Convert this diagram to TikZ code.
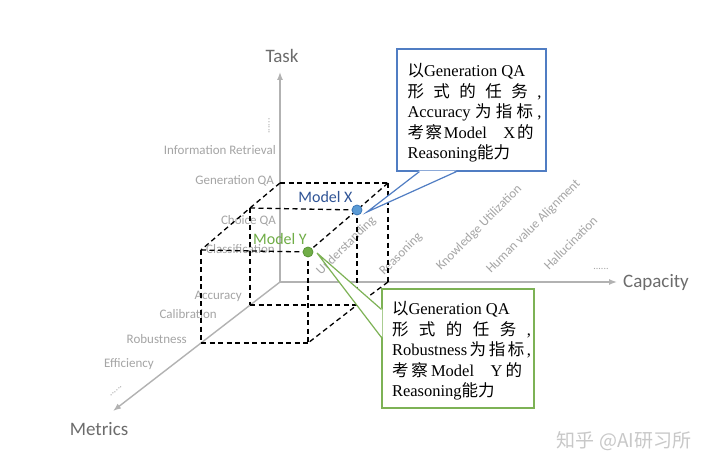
\documentclass[tikz,border=0pt]{standalone}
\usepackage{fontspec}
\setmainfont{Liberation Serif}
\newfontfamily\calib{Carlito}
\newfontfamily\cjk{Noto Sans CJK SC}
\usetikzlibrary{arrows.meta,calc}
\definecolor{axisgray}{RGB}{178,178,178}
\definecolor{lblgray}{RGB}{165,165,165}
\definecolor{axgray}{RGB}{108,108,108}
\definecolor{mxblue}{RGB}{47,84,150}
\definecolor{dotblue}{RGB}{91,155,213}
\definecolor{dotblueline}{RGB}{60,120,185}
\definecolor{mygreen}{RGB}{112,173,71}
\definecolor{dotgreenline}{RGB}{90,150,55}
\definecolor{boxblue}{RGB}{80,125,195}
\definecolor{boxgreen}{RGB}{125,178,85}
\definecolor{wmgray}{RGB}{200,200,200}
\begin{document}
\begin{tikzpicture}[x=1pt,y=-1pt,
  axis/.style={draw=axisgray, line width=1.4pt, -{Latex[length=8pt,width=6pt]}},
  cubeline/.style={draw=black, line width=1.3pt, dash pattern=on 5pt off 3.5pt},
  lbl/.style={text=lblgray, font=\calib\fontsize{13}{15}\selectfont, inner sep=0pt},
  dotlbl/.style={text=lblgray, font=\calib\fontsize{10}{12}\selectfont, inner sep=0pt},
  axlbl/.style={text=axgray, font=\calib\fontsize{19}{22}\selectfont, inner sep=0pt, anchor=base},
  modellbl/.style={font=\calib\fontsize{16}{19}\selectfont, inner sep=0pt, anchor=base},
  modeldot/.style={circle, inner sep=0pt, minimum size=10pt, line width=0.8pt},
  callbox/.style={rectangle, fill=white, line width=1.2pt, inner sep=0pt},
  boxtext/.style={align=left, inner sep=0pt, font=\fontsize{16.5}{20.5}\selectfont}
]
\useasboundingbox[fill=white] (0,0) rectangle (720,473);

% axes
\coordinate (O) at (280,282);
\coordinate (taskTip) at (280,72);
\coordinate (capTip) at (617,282);
\coordinate (metTip) at (113,411);
\draw[axis] (O) -- (taskTip);
\draw[axis] (O) -- (capTip);
\draw[axis] (O) -- (metTip);
\node[axlbl] (taskL) at (282,63) {Task};
\node[axlbl] (capL) at (656,287) {Capacity};
\node[axlbl] (metL) at (99,435.5) {Metrics};

% task labels
\node[dotlbl, rotate=90] (tdots) at (269,126) {......};
\node[lbl, anchor=base east] (infoR) at (276,155) {Information Retrieval};
\node[lbl, anchor=base east] (genQA) at (274,184.5) {Generation QA};
\node[lbl, anchor=base east] (choQA) at (276,225) {Choice QA};
\node[lbl, anchor=base east] (clas) at (275,254) {Classification};

% metric labels
\node[lbl, anchor=base east] (acc) at (242,299) {Accuracy};
\node[lbl, anchor=base east] (cal) at (217,318) {Calibration};
\node[lbl, anchor=base east] (rob) at (187,343) {Robustness};
\node[lbl, anchor=base east] (eff) at (154,367) {Efficiency};
\node[dotlbl, rotate=40] (mdots) at (116,391) {......};

% capacity labels
\node[lbl, rotate=45, anchor=base west] (und) at (321,276) {Understanding};
\node[lbl, rotate=45, anchor=base west] (rea) at (384,276) {Reasoning};
\node[lbl, rotate=45, anchor=base west] (ku) at (441,271) {Knowledge Utilization};
\node[lbl, rotate=45, anchor=base west] (hva) at (491,274) {Human value Alignment};
\node[lbl, rotate=45, anchor=base west] (hal) at (549,271) {Hallucination};
\node[dotlbl] (cdots) at (601,269) {......};

% cube vertices
\coordinate (A) at (280,183);
\coordinate (B) at (388,183);
\coordinate (C) at (250,208);
\coordinate (Xc) at (357,210);
\coordinate (D) at (201,250);
\coordinate (Yc) at (308,252);
\coordinate (Cb) at (250,305);
\coordinate (Xb) at (357,305);
\coordinate (Db) at (201,343);
\coordinate (Yb) at (308,343);
\coordinate (Bb) at (388,282);

\draw[cubeline] (A) -- (B);
\draw[cubeline] (C) -- (Xc);
\draw[cubeline] (D) -- (Yc);
\draw[cubeline] (A) -- (C) -- (D);
\draw[cubeline] (B) -- (Xc) -- (Yc);
\draw[cubeline] (C) -- (Cb);
\draw[cubeline] (D) -- (Db);
\draw[cubeline] (Xc) -- (Xb);
\draw[cubeline] (Yc) -- (Yb);
\draw[cubeline] (B) -- (Bb);
\draw[cubeline] (Cb) -- (Xb);
\draw[cubeline] (Db) -- (Yb);
\draw[cubeline] (Bb) -- (Xb) -- (Yb);

% models
\node[modeldot, fill=dotblue, draw=dotblueline] (mX) at (Xc) {};
\node[modeldot, fill=mygreen, draw=dotgreenline] (mY) at (Yc) {};
\node[modellbl, text=mxblue] (mXl) at (325.5,203) {Model X};
\node[modellbl, text=mygreen] (mYl) at (280,244) {Model Y};

% blue callout
\node[callbox, draw=boxblue, minimum width=149pt, minimum height=122pt] (bluebox) at (471.5,110) {};
\coordinate (tipX) at (367,212);
\fill[white] ($(bluebox.south west)+(23,-1)$) -- (tipX) -- ($(bluebox.south west)+(60,-1)$) -- cycle;
\draw[boxblue, line width=1.2pt, line join=miter] ($(bluebox.south west)+(23,0)$) -- (tipX) -- ($(bluebox.south west)+(60,0)$);
\node[boxtext] (bluetext) at ($(bluebox.center)+(3,3)$) {%
\makebox[134pt][l]{{\cjk 以}Generation QA}\\
\makebox[134pt][s]{{\cjk 形}\hfill{\cjk 式}\hfill{\cjk 的}\hfill{\cjk 任}\hfill{\cjk 务}\hfill,}\\
\makebox[134pt][s]{Accuracy\hfill{\cjk 为}\hfill{\cjk 指}\hfill{\cjk 标}\hfill,}\\
\makebox[134pt][l]{\makebox[126pt][s]{{\cjk 考}\hfill{\cjk 察}\hfill Model\hspace{1em}X\hfill{\cjk 的}}}\\
\makebox[134pt][l]{Reasoning{\cjk 能力}}};

% green callout
\node[callbox, draw=boxgreen, minimum width=152pt, minimum height=119pt] (greenbox) at (458,348.5) {};
\coordinate (tipY) at (317,253);
\fill[white] ($(greenbox.north west)+(1,21)$) -- (tipY) -- ($(greenbox.north west)+(1,49)$) -- cycle;
\draw[boxgreen, line width=1.2pt, line join=miter] ($(greenbox.north west)+(0,21)$) -- (tipY) -- ($(greenbox.north west)+(0,49)$);
\node[boxtext] (greentext) at ($(greenbox.center)+(3.5,2.5)$) {%
\makebox[139pt][l]{{\cjk 以}Generation QA}\\
\makebox[139pt][s]{{\cjk 形}\hfill{\cjk 式}\hfill{\cjk 的}\hfill{\cjk 任}\hfill{\cjk 务}\hfill,}\\
\makebox[139pt][s]{Robustness\hfill{\cjk 为}\hfill{\cjk 指}\hfill{\cjk 标}\hfill,}\\
\makebox[139pt][l]{\makebox[130pt][s]{{\cjk 考}\hfill{\cjk 察}\hfill Model\hspace{1em}Y\hfill{\cjk 的}}}\\
\makebox[139pt][l]{Reasoning{\cjk 能力}}};

% watermark
\node[font=\cjk\fontsize{19}{22}\selectfont, text=wmgray, inner sep=0pt, anchor=base] (wm) at (624,447) {知乎 @AI研习所};
\end{tikzpicture}
\end{document}
